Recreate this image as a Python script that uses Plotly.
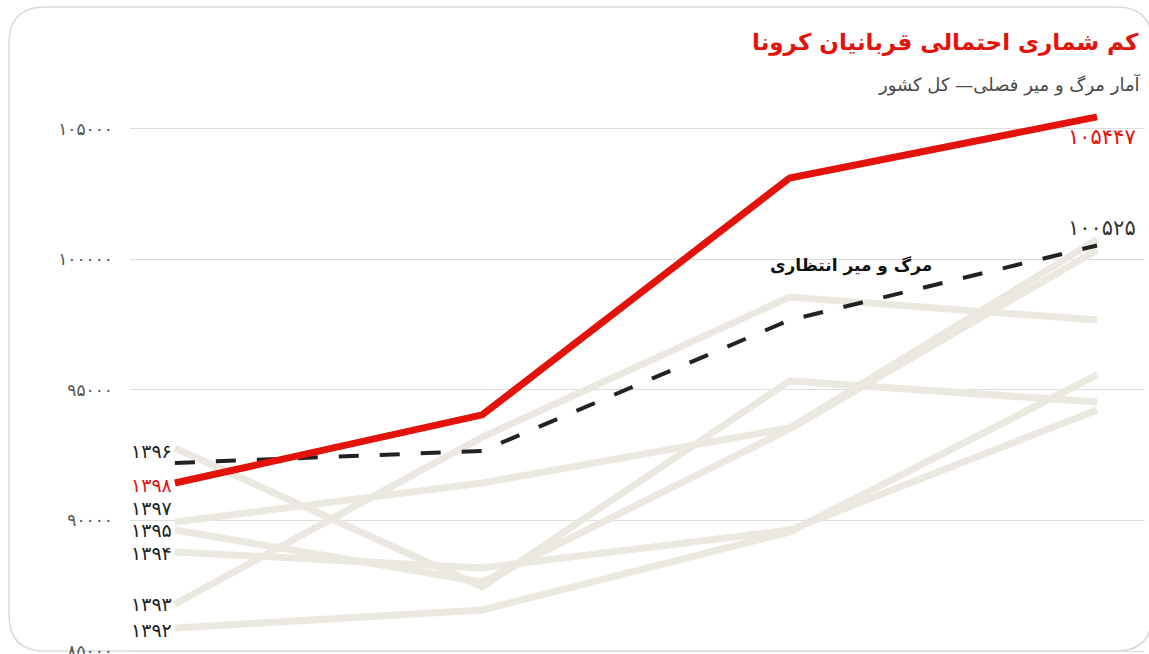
import plotly.graph_objects as go

# ---------------- data ----------------
quarters = [0, 1, 2, 3]  # four seasons of the year
years = ["1392", "1393", "1394", "1395", "1396", "1397"]
years_fa = ["۱۳۹۲", "۱۳۹۳", "۱۳۹۴", "۱۳۹۵", "۱۳۹۶", "۱۳۹۷"]
v1392 = [85880, 86570, 89560, 95570]
v1393 = [86800, 93190, 98550, 97670]
v1394 = [88790, 88180, 89630, 94230]
v1395 = [89630, 87640, 93500, 100350]
v1396 = [92770, 87450, 95340, 94530]
v1397 = [89940, 91430, 93540, 100750]
v1398 = [91430, 94040, 103110, 105447]
expected = [92200, 92660, 97670, 100525]

tick_vals = [85000, 90000, 95000, 100000, 105000]
tick_text = ["۸۵۰۰۰", "۹۰۰۰۰", "۹۵۰۰۰", "۱۰۰۰۰۰", "۱۰۵۰۰۰"]

title_text = "کم شماری احتمالی قربانیان کرونا"
subtitle_text = "آمار مرگ و میر فصلی— کل کشور"
expected_label = "مرگ و میر انتظاری"
label_1398 = "۱۳۹۸"
end_1398 = "۱۰۵۴۴۷"
end_expected = "۱۰۰۵۲۵"

# label pixel shifts (style only)
gray_label_shift = {"1392": -2, "1393": 0, "1394": -1, "1395": 0, "1396": -3, "1397": 14}

FONT = "DejaVu Sans, Noto Sans, sans-serif"
GRAY = "#ebe8e0"
RED = "#e3120b"

W, H = 1149, 654
ML, MR, MT, MB = 130, 4, 60, 0
PW, PH = W - ML - MR, H - MT - MB

fig = go.Figure()
series = [v1392, v1393, v1394, v1395, v1396, v1397]
for name, vals in zip(years, series):
    fig.add_trace(go.Scatter(x=quarters, y=vals, mode="lines", name=name,
                             line=dict(color=GRAY, width=7), hoverinfo="skip"))
fig.add_trace(go.Scatter(x=quarters, y=expected, mode="lines", name="expected",
                         line=dict(color="#222222", width=4, dash="20px,21px"),
                         hoverinfo="skip"))
fig.add_trace(go.Scatter(x=quarters, y=v1398, mode="lines", name="1398",
                         line=dict(color=RED, width=7), hoverinfo="skip"))

ann = []
for name, lab, vals in zip(years, years_fa, series):
    ann.append(dict(x=quarters[0], y=vals[0], text=lab, xref="x", yref="y",
                    xanchor="right", yanchor="middle", xshift=-1,
                    yshift=gray_label_shift[name], showarrow=False,
                    font=dict(family=FONT, size=19, color="#222222")))
ann.append(dict(x=quarters[0], y=v1398[0], text=label_1398, xref="x", yref="y",
                xanchor="right", yanchor="middle", xshift=-1, yshift=-2,
                showarrow=False, font=dict(family=FONT, size=19, color=RED)))
ann.append(dict(x=quarters[-1], y=v1398[-1], text=end_1398, xref="x", yref="y",
                xanchor="right", yanchor="middle", xshift=41, yshift=-20,
                showarrow=False, font=dict(family=FONT, size=21, color=RED)))
ann.append(dict(x=quarters[-1], y=expected[-1], text=end_expected, xref="x", yref="y",
                xanchor="right", yanchor="middle", xshift=41, yshift=17,
                showarrow=False, font=dict(family=FONT, size=21, color="#333333")))
ann.append(dict(x=2.2, y=99740, text="<b>" + expected_label + "</b>", xref="x", yref="y",
                xanchor="center", yanchor="middle", showarrow=False,
                font=dict(family=FONT, size=17, color="#111111")))


def px(x):
    return (x - ML) / PW


def py(y):
    return (H - MB - y) / PH


ann.append(dict(x=px(1141), y=py(42), xref="paper", yref="paper", text="<b>" + title_text + "</b>",
                xanchor="right", yanchor="middle", showarrow=False,
                font=dict(family=FONT, size=23, color=RED)))
ann.append(dict(x=px(1143), y=py(85), xref="paper", yref="paper", text=subtitle_text,
                xanchor="right", yanchor="middle", showarrow=False,
                font=dict(family=FONT, size=18, color="#4a4a4a")))

# rounded frame
L, T, R, B, r = 9, 7, 1152, 651, 36
path = (f"M {px(L)},{py(T + r)} Q {px(L)},{py(T)} {px(L + r)},{py(T)} "
        f"L {px(R - r)},{py(T)} Q {px(R)},{py(T)} {px(R)},{py(T + r)} "
        f"L {px(R)},{py(B - r)} Q {px(R)},{py(B)} {px(R - r)},{py(B)} "
        f"L {px(L + r)},{py(B)} Q {px(L)},{py(B)} {px(L)},{py(B - r)} Z")

fig.update_layout(
    width=W, height=H,
    margin=dict(l=ML, r=MR, t=MT, b=MB, autoexpand=False),
    paper_bgcolor="white", plot_bgcolor="white",
    showlegend=False,
    annotations=ann,
    shapes=[dict(type="path", path=path, xref="paper", yref="paper",
                 line=dict(color="#d3dbe2", width=1.5), layer="below")],
    xaxis=dict(range=[-0.146, 3.156], showgrid=False, zeroline=False,
               showticklabels=False, showline=False, ticks="", automargin=False),
    yaxis=dict(range=[84885, 107626], tickvals=tick_vals, ticktext=tick_text,
               showgrid=True, gridcolor="#dddddd", gridwidth=1, zeroline=False,
               showline=False, ticks="", ticklabelstandoff=16,
               ticklabeloverflow="allow", automargin=False,
               tickfont=dict(family=FONT, size=17, color="#555555")),
    font=dict(family=FONT),
)

fig.write_html("out.html", include_plotlyjs=True,
               config={"displayModeBar": False},
               post_script="document.body.style.margin='0';document.body.style.overflow='hidden';")
